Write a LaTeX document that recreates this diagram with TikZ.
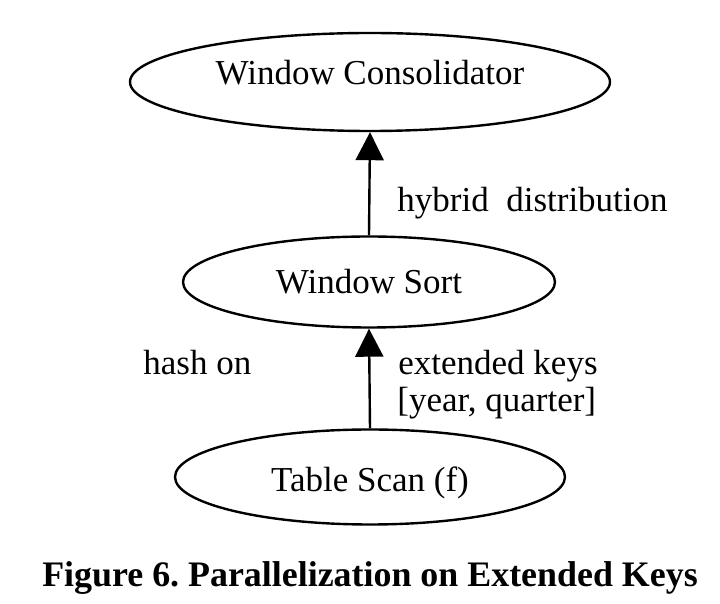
\documentclass[tikz,border=0pt]{standalone}
\usepackage{fontspec}
\setmainfont{Liberation Serif}
\usetikzlibrary{shapes.geometric,arrows.meta}
\frenchspacing
\begin{document}
\begin{tikzpicture}[x=0.5pt,y=-0.5pt,
  op/.style={draw,ellipse,line width=1.2pt,inner sep=0pt,font=\fontsize{17.5}{21}\selectfont},
  lbl/.style={anchor=base west,inner sep=0pt,font=\fontsize{17.5}{21}\selectfont},
  edge/.style={line width=1.2pt,-{Triangle[length=14pt,width=14pt]}}]
\useasboundingbox (0,0) rectangle (720,604);
\node[op,minimum width=240pt,minimum height=49pt,text depth=10pt] (wc) at (370,82) {Window Consolidator};
\node[op,minimum width=186pt,minimum height=45.5pt] (ws) at (369,282) {Window Sort};
\node[op,minimum width=195pt,minimum height=47.5pt,text height=18.8pt,text depth=3.8pt] (ts) at (370,477) {Table Scan (f)};
\draw[edge] (ws.north) -- (wc.south);
\draw[edge] (ts.north) -- (ws.south);
\node[lbl] (l1) at (397,212) {hybrid\ \ distribution};
\node[lbl] (l2) at (143,375) {hash on};
\node[lbl] (l3) at (398,375) {extended keys};
\node[lbl] (l4) at (397,412) {[year, quarter]};
\node[anchor=base,inner sep=0pt,font=\fontsize{17.95}{21}\selectfont\bfseries] (cap) at (370,587) {Figure 6. Parallelization on Extended Keys};
\end{tikzpicture}
\end{document}
